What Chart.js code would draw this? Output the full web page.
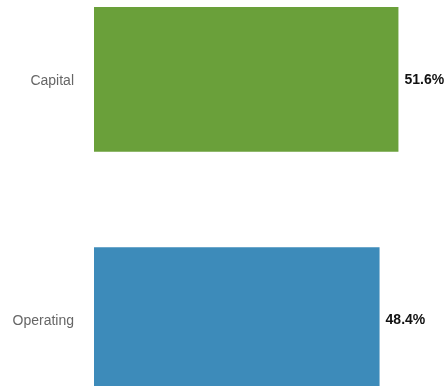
<!DOCTYPE html>
<html>
<head>
<meta charset="utf-8">
<script src="https://cdn.jsdelivr.net/npm/chart.js@4"></script>
<style>
  html, body { margin: 0; padding: 0; background: #fff; overflow: hidden; }
  #chart { position: absolute; left: 0; top: -69px; }
</style>
</head>
<body>
<canvas id="chart" width="448" height="537"></canvas>
<script>
const categories = ["Capital", "Operating"];
const shares = [51.6, 48.4];
const barColors = ["#6aa03a", "#3d8bba"];

// writes the percentage just past the end of each bar
const valueLabels = {
  id: "valueLabels",
  afterDatasetsDraw(chart) {
    const ctx = chart.ctx;
    const meta = chart.getDatasetMeta(0);
    ctx.save();
    ctx.font = "bold 14px 'Helvetica Neue', Helvetica, Arial, 'Liberation Sans', sans-serif";
    ctx.fillStyle = "#111";
    ctx.textAlign = "left";
    ctx.textBaseline = "middle";
    meta.data.forEach((bar, i) => {
      ctx.fillText(shares[i].toFixed(1) + "%", bar.x + 6, bar.y + 1);
    });
    ctx.restore();
  }
};

new Chart(document.getElementById("chart"), {
  type: "bar",
  data: {
    labels: categories,
    datasets: [{
      data: shares,
      backgroundColor: barColors,
      borderWidth: 0,
      categoryPercentage: 0.603,
      barPercentage: 1
    }]
  },
  options: {
    indexAxis: "y",
    responsive: false,
    animation: false,
    layout: { padding: 0 },
    plugins: {
      legend: { display: false },
      tooltip: { enabled: false }
    },
    scales: {
      x: {
        display: false,
        min: 0,
        max: 60
      },
      y: {
        grid: { display: false, drawTicks: false },
        border: { display: false },
        ticks: {
          color: "#666",
          padding: 20,
          labelOffset: 2,
          font: { size: 14, family: "'Helvetica Neue', Helvetica, Arial, 'Liberation Sans', sans-serif" }
        },
        afterFit(scale) { scale.width = 94; }
      }
    }
  },
  plugins: [valueLabels]
});
</script>
</body>
</html>
